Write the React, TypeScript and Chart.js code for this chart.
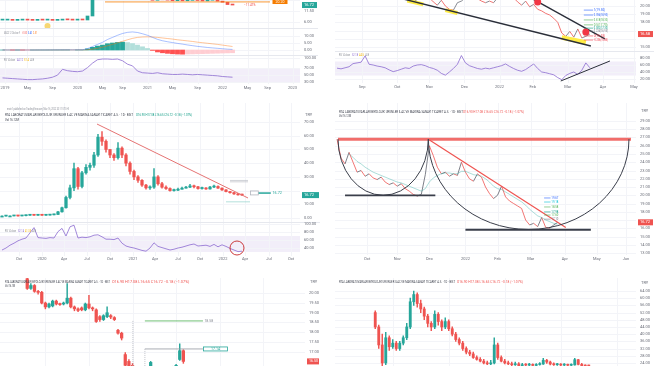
import React, { useEffect, useRef } from 'react';
import { Chart, registerables } from 'chart.js';

Chart.register(...registerables);

const FONT = 'Roboto, "DejaVu Sans", sans-serif';
const UP = '#26a69a';
const DOWN = '#ef5350';
const AXIS_TXT = '#6a6d78';
const GRID = '#f3f4f8';
const LEGEND = '#8a8d96';
const RSI_LINE = '#8c6bd0';
const RSI_BAND = 'rgba(126,87,194,0.10)';
const INK = '#3a3e4a';
const TITLE = 'RTA LABORATUVARLARI BIYOLOJIK URUNLER ILAC VE MAKINA SANAYI TICARET A.S. · 1D · BIST';
const OHLC = 'O16.90 H17.08 L16.65 C16.72 −0.18 (−1.07%)';

// ---------------- Top-left: price / MACD / RSI ----------------
const tlTickLabels = ['2019', 'May', 'Sep', '2020', 'May', 'Sep', '2021', 'May', 'Sep', '2022', 'May', 'Sep', '2023'];
const tlTickIndex = [0.5, 5, 10, 15, 20, 24, 29, 34, 39, 44, 49, 53, 58];
const tlFirstOpen = 6.7;
const tlCloses = [6.7, 6.8, 6.6, 6.7, 6.9, 6.7, 6.6, 6.8, 6.7, 6.8, 6.6, 6.7, 6.9, 6.8, 6.7, 6.8, 6.75,
  8.6, 30,
  35, 45, 55, 60, 50, 47, 52, 45, 38, 30, 27, 22.3, 25, 23, 22.5, 21.8, 22.8, 21.7, 22.2, 23,
  22, 21.5, 22.4, 23.2, 21.2, 19.8, 17.2, 16.72];
const tlMacd = [0.05, 0.04, 0.03, 0.03, 0.02, 0.02, 0.02, 0.03, 0.04, 0.05, 0.06, 0.08, 0.1, 0.12, 0.12, 0.13, 0.15,
  1.0, 2.5, 4.0, 5.5, 7.5, 9.0, 10.5, 11.8, 12.6, 12.9, 12.5, 11.6, 10.5, 9.0, 7.6,
  6.6, 5.9, 5.3, 4.7, 4.2, 3.6, 3.1, 2.6, 2.2, 1.8, 1.5, 1.2, 0.9, 0.6, 0.4];
const tlSignal = [0.04, 0.04, 0.04, 0.03, 0.03, 0.03, 0.02, 0.02, 0.03, 0.03, 0.04, 0.05, 0.06, 0.08, 0.09, 0.1, 0.11,
  0.2, 0.6, 1.2, 2.0, 3.0, 4.0, 5.1, 6.2, 7.3, 8.3, 9.0, 9.3, 9.4, 9.3, 9.0,
  8.6, 8.2, 7.8, 7.3, 6.9, 6.5, 6.1, 5.6, 5.2, 4.8, 4.4, 4.0, 3.5, 3.0, 2.5];
const tlHist = [0.01, 0, -0.01, 0, -0.01, -0.01, 0, 0.01, 0.01, 0.02, 0.02, 0.03, 0.04, 0.04, 0.03, 0.03, 0.04,
  0.8, 1.9, 2.8, 3.5, 4.5, 5.0, 5.4, 5.6, 5.3, 4.6, 3.5, 2.3, 1.1,
  -0.3, -1.4, -2.0, -2.4, -2.7, -2.9, -3.0, -2.9, -2.8, -2.7, -2.6, -2.5, -2.4, -2.3, -2.2, -2.1, -2.0];
const tlRsi = [42, 41, 40, 39, 38, 37, 37, 38, 39, 41, 44, 50, 67, 63, 61, 60, 62,
  72, 85, 95, 97, 97, 96, 97, 92, 82, 77, 62, 57, 56, 55, 57, 54,
  53, 52, 52, 53, 52, 51, 52, 51, 50, 49, 48, 46, 45, 44];

// ---------------- Top-right: falling wedge ----------------
const trTickLabels = ['Sep', 'Oct', 'Nov', 'Dec', '2022', 'Feb', 'Mar', 'Apr', 'May'];
const trTickIndex = [6.25, 15, 23, 31.75, 40.5, 48.75, 57.5, 66.25, 74];
const trCloses = [21.5, 22, 22.5, 21.8, 22.3, 23, 22.1, 21.6, 22.4, 21.9,
  22.8, 23.2, 22.5, 21.7, 22, 21.4, 21.2, 21.0, 20.6, 20.5,
  20.8, 21.2, 21.5, 21.0, 20.5, 20.1, 20.7, 20.0, 19.6, 19.5,
  20.4, 20.6, 21.0, 21.4, 21.2, 20.9, 20.6, 20.4, 20.6, 20.4,
  21, 21.5, 22, 21.3, 21, 20.5, 20.1, 20.6, 19.9, 20.2,
  19.6, 19.4, 19.1, 18.9, 18.5, 18.0, 16.7, 16.3, 16.9, 16.2,
  17.2, 16.1, 16.3, 16.58];
const trRsi = [51, 49, 52, 55, 64, 66, 68, 86, 62, 60, 57, 55, 52, 46, 41, 44, 48, 52, 50, 57,
  60, 61, 58, 53, 50, 45, 36, 31, 40, 50, 62, 87, 66, 58, 54, 50, 48, 51, 49, 52,
  55, 58, 63, 56, 50, 45, 42, 47, 55, 63, 50, 40, 38, 35, 32, 24, 18, 30, 36, 40,
  33, 45, 66, 52];
const trFibLevels = [19.5, 18.9, 18.3, 17.7, 17.3, 16.95, 16.35, 15.85];
const trFibNames = ['1', '0.786', '0.618', '0.5', '0.382', '0.236', '0', '-0.236'];
const trFibColors = ['#2962ff', '#2962ff', '#4caf50', '#4caf50', '#089981', '#787b86', '#f23645', '#f23645'];

// ---------------- Middle-left: full history with trend line ----------------
const mlTickLabels = ['Oct', '2020', 'Apr', 'Jul', 'Oct', '2021', 'Apr', 'Jul', 'Oct', '2022', 'Apr', 'Jul', 'Oct'];
const mlTickIndex = [4.25, 10, 15.5, 21.25, 27, 32.75, 38.25, 44, 49.5, 55.25, 60.75, 66.75, 72.25];
const mlFirstOpen = 1.4;
const mlCloses = [1.4, 1.5, 1.5, 1.6, 1.5, 1.7, 2.0, 2.2, 2.0, 2.1,
  2.0, 2.1, 2.3, 2.6, 4.5, 7.5, 15, 22, 36, 23,
  33, 37, 38.5, 46, 59, 56, 50, 46, 44, 51,
  46, 40, 34, 30, 27.5, 24, 22, 22.5, 30, 25,
  22.5, 21.5, 20, 20.3, 21, 21.8, 22.5, 23.4, 22.8, 21.5,
  21.8, 21.2, 22.6, 23, 21.8, 20.5, 19.3, 18.5, 17.6, 16.9,
  16.72];
const mlHighs = [1.5, 1.6, 1.6, 1.7, 1.7, 1.8, 2.2, 2.3, 2.2, 2.2,
  2.2, 2.2, 2.4, 2.8, 4.8, 8.0, 16, 24, 40, 37,
  34, 39, 40, 48, 61, 63, 57, 50, 47, 55,
  52, 47, 41, 35, 31, 28, 24.5, 23.5, 36, 31,
  26, 23.5, 22, 21.2, 21.8, 22.5, 23.2, 24.5, 24, 23.2,
  22.5, 22.2, 23.2, 24, 23.5, 22, 20.8, 19.5, 18.8, 18,
  17.4];
const mlLows = [1.3, 1.4, 1.4, 1.5, 1.4, 1.5, 1.6, 1.9, 1.9, 1.9,
  1.9, 1.9, 2.0, 2.2, 2.5, 4.3, 7.2, 14, 20, 21,
  22, 32, 35, 37, 45, 53, 48, 44, 42, 43,
  44, 38, 32, 28, 26, 23, 21, 20.8, 21.5, 24,
  21.8, 20.8, 19.5, 19.6, 20, 21, 21.7, 22.2, 22, 21,
  21, 20.8, 21, 22.2, 21.5, 20.2, 19, 18.2, 17.3, 16.6,
  16.5];
const mlRsi = [35, 40, 47, 52, 58, 62, 65, 78, 91, 66,
  65, 64, 66, 65, 81, 89, 70, 93, 97, 65,
  67, 66, 68, 72, 73, 68, 62, 62, 61, 65,
  52, 45, 42, 40, 37, 34, 32, 40, 53, 44,
  41, 38, 35, 37, 40, 42, 45, 48, 50, 45,
  46, 47, 44, 49, 43, 48, 44, 39, 35, 31,
  32];

// ---------------- Middle-right: cup arcs ----------------
const mrTickLabels = ['Oct', 'Nov', 'Dec', '2022', 'Feb', 'Mar', 'Apr', 'May', 'Jun'];
const mrTickIndex = [7.5, 15, 23, 32, 40, 48.25, 56.75, 64.75, 72];
const mrCloses = [26.8, 24.5, 23.8, 25.2, 24.0, 22.8, 23.0, 22.3, 22.6, 22.1,
  21.9, 22.2, 21.6, 21.3, 21.5, 21.1, 21.4, 20.8, 20.5, 20.1,
  19.9, 20.1, 22.5, 26.0, 24.8, 23.4, 22.6, 22.8, 22.3, 22.6,
  22.4, 24.0, 22.8, 22.0, 21.7, 22.6, 22.2, 21.0, 20.2, 19.6,
  20.0, 21.1, 19.8, 19.3, 19.0, 18.7, 18.4, 17.0, 16.4, 16.6,
  16.2, 17.3, 16.1, 16.0, 16.4, 16.72];
const mrMa = [null, null, null, 25.0, 24.6, 24.1, 23.8, 23.4, 23.1, 22.8,
  22.6, 22.4, 22.2, 22.0, 21.8, 21.6, 21.5, 21.3, 21.1, 20.9,
  20.7, 20.5, 20.8, 21.6, 22.1, 22.4, 22.6, 22.7, 22.7, 22.6,
  22.6, 22.9, 22.9, 22.7, 22.5, 22.4, 22.3, 22.0, 21.6, 21.1,
  20.8, 20.7, 20.4, 20.1, 19.8, 19.5, 19.2, 18.8, 18.3, 17.9,
  17.5, 17.3, 17.0, 16.8, 16.6, 16.5];
const mrFibLevels = [19.67, 19.18, 18.58, 17.98, 17.6, 17.1];
const mrFibColors = ['#2962ff', '#00bcd4', '#4caf50', '#089981', '#4caf50', '#787b86'];

// ---------------- Bottom-left: daily zoom ----------------
const blStart = 7;
const blOpens = [20.75, 20.25, 20.4, 20.1, 20.05, 19.5, 19.3, 19.35, 19.6, 19.45,
  19.45, 19.5, 19.75, 19.3, 19.2, 19.25, 19.15, 19.45, 19.25, 19.15,
  18.8, 18.65, 18.8, 18.85, 18.75, 18.1, 17.95, 16.85, 16.5, 16.3,
  16.1, 15.9, 15.8, 15.9, 16.2, 16.1, 15.9, 15.8, 15.9, 16.0,
  16.1, 16.2, 16.6, 17.05];
const blCloses = [20.25, 20.4, 20.1, 20.05, 19.5, 19.3, 19.45, 19.6, 19.45, 19.42,
  19.5, 19.75, 19.3, 19.2, 19.12, 19.15, 19.45, 19.25, 19.2, 18.55,
  18.65, 18.85, 19.0, 18.78, 18.65, 17.95, 17.7, 16.3, 16.2, 16.1,
  15.9, 15.8, 15.9, 16.0, 16.45, 15.9, 15.8, 15.9, 16.0, 16.1,
  16.2, 16.3, 17.05, 16.5];
const blHighs = [20.9, 20.5, 20.45, 20.15, 20.1, 19.55, 19.5, 19.65, 19.65, 19.5,
  19.55, 20.5, 19.8, 19.35, 19.25, 19.3, 19.5, 19.9, 19.3, 19.2,
  18.85, 18.9, 19.3, 18.9, 18.8, 18.15, 18.0, 16.95, 16.6, 16.4,
  16.15, 16.0, 16.0, 16.1, 16.5, 16.2, 16.0, 16.0, 16.1, 16.15,
  16.25, 16.35, 17.4, 17.1];
const blLows = [20.2, 20.2, 20.05, 19.95, 19.45, 19.2, 19.25, 19.3, 19.4, 19.38,
  19.4, 19.45, 19.25, 19.1, 19.05, 19.1, 19.1, 19.2, 19.1, 18.5,
  18.55, 18.6, 18.75, 18.7, 18.6, 17.9, 17.6, 16.2, 16.1, 16.0,
  15.8, 15.7, 15.75, 15.85, 16.15, 15.85, 15.7, 15.75, 15.85, 15.95,
  16.05, 16.15, 16.55, 16.4];

// ---------------- Bottom-right: history candles ----------------
const brStart = 11;
const brFirstOpen = 52;
const brCloses = [44, 34, 24, 38, 33, 35, 32, 35, 38, 44,
  58, 62, 57, 54, 50, 46, 44, 51, 47, 44,
  47, 43, 40, 37, 35, 32, 30, 29, 27, 26,
  25, 24, 23.5, 24, 34, 27, 25, 24, 23.5, 23,
  23.5, 22.5, 23, 22.8, 23.2, 22.6, 23.1, 23.4, 25.5, 24.5,
  23.4, 23, 23.2, 22.8, 23.1, 22.7, 22.9, 25.8, 23.2, 22.5,
  22.2, 21.8];
const brHighs = [53, 45, 40, 41, 39, 37, 36, 36, 39, 46,
  60, 64, 63, 59, 55, 51, 47, 53, 52, 48,
  49, 48, 44, 41, 38, 36, 33, 31, 30, 28,
  27, 26, 25, 25.5, 38, 35, 28, 26, 25, 24.5,
  24.5, 24.2, 23.8, 23.6, 23.8, 23.5, 23.6, 24.2, 26.5, 26,
  25, 24, 23.8, 23.6, 23.6, 23.4, 23.5, 26.5, 26, 23.8,
  23, 22.8];
const brLows = [43, 32, 22, 23, 31, 32, 31, 31, 34, 37,
  43, 56, 55, 52, 48, 44, 42, 43, 45, 42,
  43, 42, 39, 36, 34, 31, 29, 28, 26.5, 25.5,
  24.5, 23.5, 23, 23, 23.5, 26, 24.5, 23.5, 23, 22.5,
  22.6, 22.2, 22.2, 22.4, 22.5, 22.3, 22.4, 22.8, 23.2, 23.8,
  22.9, 22.6, 22.6, 22.4, 22.5, 22.4, 22.5, 22.7, 22.9, 22.2,
  21.8, 21.5];

// ---------------- helpers ----------------
function opensFrom(first: number, closes: number[]) {
  return closes.map((c, i) => (i === 0 ? first : closes[i - 1]));
}
function pad(start: number, arr: any[]) {
  return [...Array(start).fill(null), ...arr];
}
function range(a: number, b: number, step: number) {
  const out: number[] = [];
  for (let v = a; v <= b + 1e-9; v += step) out.push(Math.round(v * 100) / 100);
  return out;
}
function candles(opens: any[], closes: any[], highs: any[] | null, lows: any[] | null, bodyW: number, wickW: number) {
  const cols = closes.map((c, i) => (c == null ? 'rgba(0,0,0,0)' : c >= opens[i] ? UP : DOWN));
  const ds: any[] = [{
    type: 'bar', data: closes.map((c, i) => (c == null ? null : [opens[i], c])),
    backgroundColor: cols, barThickness: bodyW, grouped: false, order: 1, minBarLength: 1,
  }];
  if (highs && lows) {
    ds.push({
      type: 'bar', data: highs.map((h, i) => (h == null ? null : [lows[i], h])),
      backgroundColor: cols, barThickness: wickW, grouped: false, order: 2,
    });
  }
  return ds;
}
function line(data: any[], color: string, width: number, extra: any = {}) {
  return { type: 'line', data, borderColor: color, borderWidth: width, pointRadius: 0, fill: false, tension: 0, spanGaps: true, order: 0, ...extra };
}
const upDownSegment = (upC: string, downC: string) => ({
  borderColor: (c: any) => (c.p1.parsed.y < c.p0.parsed.y ? downC : upC),
});

function txt(ctx: any, text: string, x: number, y: number, color: string, size = 4, align = 'left', maxW?: number) {
  ctx.font = `${size}px ${FONT}`;
  ctx.fillStyle = color;
  ctx.textAlign = align;
  ctx.textBaseline = 'middle';
  if (maxW) ctx.fillText(text, x, y, maxW);
  else ctx.fillText(text, x, y);
}

function makePlugin(a: any) {
  return {
    id: 'tvDecor',
    beforeDatasetsDraw(chart: any) {
      const { ctx, chartArea: ca, scales } = chart;
      const xs = scales.x, ys = scales.y;
      ctx.save();
      for (const b of a.bands || []) {
        const y1 = ys.getPixelForValue(b.from), y2 = ys.getPixelForValue(b.to);
        ctx.fillStyle = b.color;
        ctx.fillRect(ca.left, Math.min(y1, y2), ca.right - ca.left, Math.abs(y2 - y1));
      }
      ctx.strokeStyle = GRID;
      ctx.lineWidth = 1;
      ctx.beginPath();
      for (const v of a.yTicks || []) {
        const y = Math.round(ys.getPixelForValue(v)) + 0.5;
        if (y < ca.top || y > ca.bottom) continue;
        ctx.moveTo(ca.left, y); ctx.lineTo(ca.right, y);
      }
      for (const i of a.xTicks || []) {
        const x = Math.round(xs.getPixelForValue(i)) + 0.5;
        ctx.moveTo(x, ca.top); ctx.lineTo(x, ca.bottom);
      }
      ctx.stroke();
      if (a.sepTop) {
        ctx.strokeStyle = '#e6e8ee';
        ctx.beginPath(); ctx.moveTo(0, 0.5); ctx.lineTo(chart.width, 0.5); ctx.stroke();
      }
      ctx.restore();
    },
    afterDatasetsDraw(chart: any) {
      const { ctx, chartArea: ca, scales } = chart;
      const xs = scales.x, ys = scales.y;
      const X = (v: number) => xs.getPixelForValue(v);
      const Y = (v: number) => ys.getPixelForValue(v);
      ctx.save();
      ctx.beginPath(); ctx.rect(ca.left, ca.top, ca.right - ca.left, ca.bottom - ca.top); ctx.clip();
      for (const s of a.segs || []) {
        ctx.strokeStyle = s.color; ctx.lineWidth = s.width; ctx.lineCap = 'butt';
        ctx.setLineDash(s.dash || []);
        ctx.beginPath(); ctx.moveTo(X(s.x1), Y(s.y1)); ctx.lineTo(X(s.x2), Y(s.y2)); ctx.stroke();
      }
      ctx.setLineDash([]);
      for (const r of a.arcs || []) {
        const x1 = X(r.x1), x2 = X(r.x2), yt = Y(r.top), yb = Y(r.bottom);
        ctx.strokeStyle = r.color; ctx.lineWidth = r.width;
        ctx.beginPath(); ctx.ellipse((x1 + x2) / 2, yt, Math.abs(x2 - x1) / 2, Math.abs(yb - yt), 0, 0, Math.PI); ctx.stroke();
      }
      for (const c of a.circles || []) {
        ctx.beginPath(); ctx.arc(X(c.x), Y(c.y), c.r, 0, Math.PI * 2);
        if (c.fill) { ctx.fillStyle = c.fill; ctx.fill(); }
        if (c.stroke) { ctx.strokeStyle = c.stroke; ctx.lineWidth = c.width || 1; ctx.stroke(); }
      }
      for (const b of a.boxes || []) {
        const x1 = X(b.x1), x2 = X(b.x2), y = Y(b.v);
        if (b.fill) { ctx.fillStyle = b.fill; ctx.fillRect(x1, y - b.h / 2, x2 - x1, b.h); }
        if (b.stroke) { ctx.strokeStyle = b.stroke; ctx.lineWidth = 0.8; ctx.strokeRect(x1 + 0.5, y - b.h / 2 + 0.5, x2 - x1 - 1, b.h - 1); }
        if (b.text) txt(ctx, b.text, (x1 + x2) / 2, y, b.fg, 3.5, 'center', x2 - x1 - 1);
      }
      for (const t of a.dtexts || []) txt(ctx, t.text, X(t.x), Y(t.y), t.color, t.size || 3.5, t.align || 'left', t.maxW);
      ctx.restore();

      ctx.save();
      const tagYs = (a.tags || []).map((t: any) => Y(t.v));
      for (const v of a.yTicks || []) {
        const y = Y(v);
        if (y < 2 || y > chart.height - 2) continue;
        if (tagYs.some((ty: number) => Math.abs(ty - y) < 5)) continue;
        txt(ctx, v.toFixed(a.yDec), ca.right + 4, y, AXIS_TXT, 4, 'left', chart.width - ca.right - 5);
      }
      if (a.header) txt(ctx, a.header, ca.right + 5, a.headerY, AXIS_TXT, 4);
      for (const t of a.tags || []) {
        const y = Y(t.v);
        ctx.fillStyle = t.bg;
        ctx.fillRect(ca.right + 2, y - 3, chart.width - ca.right - 3, 6);
        txt(ctx, t.text, ca.right + 4, y, '#ffffff', 4, 'left', chart.width - ca.right - 6);
      }
      if (a.xLabels) {
        a.xLabels.forEach((l: string, i: number) => {
          const x = X(a.xTicks[i]);
          if (x < 4 || x > chart.width - 4) return;
          txt(ctx, l, x, ca.bottom + a.xLabOff, AXIS_TXT, 4, 'center');
        });
      }
      for (const t of a.texts || []) txt(ctx, t.text, t.px, t.py, t.color, t.size || 4, 'left', t.maxW);
      ctx.restore();
    },
  };
}

function Pane({ p }: { p: any }) {
  const ref = useRef<HTMLCanvasElement>(null);
  useEffect(() => {
    const chart = new Chart(ref.current as HTMLCanvasElement, {
      type: 'bar',
      data: { labels: Array.from({ length: p.count }, (_, i) => String(i)), datasets: p.datasets },
      options: {
        responsive: false,
        animation: false,
        devicePixelRatio: 1,
        events: [],
        layout: { padding: { left: 0, top: 0, right: p.axisW, bottom: p.bottomH } },
        plugins: { legend: { display: false }, tooltip: { enabled: false } },
        scales: {
          x: { type: 'category', display: false, offset: true },
          y: { type: p.log ? 'logarithmic' : 'linear', display: false, min: p.min, max: p.max },
        },
      } as any,
      plugins: [makePlugin(p.ann)],
    } as any);
    return () => chart.destroy();
  }, []);
  return (
    <canvas
      ref={ref}
      width={p.width}
      height={p.height}
      style={{ position: 'absolute', left: p.left, top: p.top, width: p.width, height: p.height, display: 'block' }}
    />
  );
}

// ---------------- derived tables ----------------
const tlOpens = opensFrom(tlFirstOpen, tlCloses);
const tlHistColors = tlHist.map((h, i) => {
  const prev = i > 0 ? tlHist[i - 1] : 0;
  return h >= 0 ? (h >= prev ? '#26a69a' : '#b2dfdb') : (h < prev ? '#ff5252' : '#ffcdd2');
});
const mlOpens = opensFrom(mlFirstOpen, mlCloses);
const brOpens = opensFrom(brFirstOpen, brCloses);
const rsiBand = [{ from: 30, to: 70, color: RSI_BAND }];

const PANES: any[] = [
  // TL price
  {
    left: 0, top: 0, width: 318, height: 28, axisW: 18, bottomH: 0, count: 60, log: true, min: 4.15, max: 22.7,
    datasets: candles(tlOpens, tlCloses, null, null, 3, 1),
    ann: {
      yTicks: [6, 11.5, 22.5], yDec: 2, xTicks: tlTickIndex,
      tags: [{ v: 16.72, text: '16.72', bg: UP }],
      segs: [{ x1: 20.5, y1: 20.2, x2: 53.5, y2: 20.2, color: '#f57c00', width: 0.8 }],
      boxes: [{ x1: 54, x2: 57, v: 20.1, h: 4, fill: '#f57c00', text: '20.20', fg: '#ffffff' }],
      circles: [{ x: 9, y: 4.7, r: 3, fill: '#f7d774' }],
      dtexts: [{ x: 48.3, y: 16.9, text: '−11.47%', color: DOWN, size: 3 }],
    },
  },
  // TL MACD
  {
    left: 0, top: 28, width: 318, height: 27, axisW: 18, bottomH: 0, count: 60, min: -3.57, max: 15.71,
    datasets: [
      line(tlMacd, 'rgba(41,98,255,0.5)', 0.8),
      line(tlSignal, 'rgba(255,109,0,0.5)', 0.8),
      { type: 'bar', data: tlHist, backgroundColor: tlHistColors, barThickness: 4.2, grouped: false, order: 1 },
    ],
    ann: {
      yTicks: [0, 5, 10], yDec: 2, xTicks: tlTickIndex, sepTop: true,
      texts: [
        { px: 4, py: 5, text: 'MACD 12 26 close 9', color: LEGEND, size: 3.8, maxW: 16 },
        { px: 22, py: 5, text: '-2.00', color: '#ef5350', size: 3.8, maxW: 5 },
        { px: 28, py: 5, text: '0.40', color: '#2962ff', size: 3.8, maxW: 4 },
        { px: 33, py: 5, text: '2.51', color: '#ff6d00', size: 3.8, maxW: 4 },
      ],
    },
  },
  // TL RSI
  {
    left: 0, top: 55, width: 318, height: 37, axisW: 18, bottomH: 8, count: 60, min: 24.2, max: 108.75,
    datasets: [line(tlRsi, RSI_LINE, 0.8)],
    ann: {
      yTicks: [30, 50, 70, 100], yDec: 2, xTicks: tlTickIndex, xLabels: tlTickLabels, xLabOff: 3.5,
      bands: rsiBand, sepTop: true,
      texts: [
        { px: 4, py: 5, text: 'RSI 14 close', color: LEGEND, size: 3.8, maxW: 11 },
        { px: 17, py: 5, text: '44.12', color: RSI_LINE, size: 3.8, maxW: 6 },
        { px: 24, py: 5, text: '51.4', color: '#f5b400', size: 3.8, maxW: 5 },
        { px: 30, py: 5, text: '4.8', color: LEGEND, size: 3.8, maxW: 4 },
      ],
    },
  },
  // TR price
  {
    left: 335, top: 0, width: 319, height: 51, axisW: 18, bottomH: 0, count: 75, min: 14.512, max: 20.732,
    datasets: [line(trCloses, '#6b6e78', 0.8, { segment: upDownSegment('#6b6e78', DOWN) })],
    ann: {
      yTicks: [15, 16, 17, 18, 19, 20], yDec: 2, xTicks: trTickIndex,
      tags: [{ v: 16.58, text: '16.58', bg: DOWN }],
      segs: [
        { x1: 17.5, y1: 20.65, x2: 21.5, y2: 20.2, color: 'rgba(255,235,59,0.95)', width: 4 },
        { x1: 27, y1: 19.5, x2: 30, y2: 19.15, color: 'rgba(255,235,59,0.95)', width: 4 },
        { x1: 56, y1: 16.15, x2: 62, y2: 15.55, color: 'rgba(255,235,59,0.95)', width: 4.5 },
        { x1: 0, y1: 22.88, x2: 63.25, y2: 15.12, color: '#2a2e39', width: 1.4 },
        { x1: 40, y1: 23.24, x2: 66.75, y2: 15.98, color: '#2a2e39', width: 1.4 },
        ...trFibLevels.map((v, i) => ({ x1: 61.5, y1: v, x2: 63.8, y2: v, color: trFibColors[i], width: 0.6 })),
      ],
      circles: [
        { x: 50, y: 20.49, r: 3.5, fill: '#f23645' },
        { x: 62, y: 16.83, r: 3.5, fill: '#f23645' },
      ],
      dtexts: trFibLevels.map((v, i) => ({ x: 64, y: v, text: `${trFibNames[i]}(${v.toFixed(2)})`, color: trFibColors[i], size: 3, maxW: 14 })),
    },
  },
  // TR RSI
  {
    left: 335, top: 51, width: 319, height: 41, axisW: 18, bottomH: 9, count: 75, min: 8.57, max: 100,
    datasets: [line(trRsi, RSI_LINE, 0.8)],
    ann: {
      yTicks: [20, 40, 60, 80], yDec: 2, xTicks: trTickIndex, xLabels: trTickLabels, xLabOff: 4,
      bands: rsiBand, sepTop: true,
      segs: [{ x1: 55.75, y1: 14.3, x2: 68, y2: 71.4, color: '#2a2e39', width: 1 }],
      texts: [
        { px: 4, py: 4, text: 'RSI 14 close', color: LEGEND, size: 3.8, maxW: 11 },
        { px: 17, py: 4, text: '52.18', color: RSI_LINE, size: 3.8, maxW: 6 },
        { px: 24, py: 4, text: '44.5', color: '#f5b400', size: 3.8, maxW: 5 },
        { px: 30, py: 4, text: '4.8', color: LEGEND, size: 3.8, maxW: 4 },
      ],
    },
  },
  // ML price
  {
    left: 0, top: 103, width: 320, height: 119, axisW: 20, bottomH: 0, count: 75, min: -2.92, max: 83.94,
    datasets: candles(mlOpens, mlCloses, mlHighs, mlLows, 2.6, 0.8),
    ann: {
      yTicks: [0, 10, 20, 30, 40, 50, 60, 70], yDec: 2, xTicks: mlTickIndex, header: 'TRY', headerY: 12,
      tags: [{ v: 16.72, text: '16.72', bg: UP }],
      segs: [
        { x1: 23.75, y1: 68.6, x2: 61.5, y2: 14.6, color: '#e57373', width: 1 },
        { x1: 64, y1: 18.2, x2: 67.2, y2: 18.2, color: UP, width: 1.5 },
        { x1: 57, y1: 27.4, x2: 61.5, y2: 27.4, color: '#b2b5be', width: 0.6 },
        { x1: 57, y1: 26.4, x2: 61.5, y2: 26.4, color: '#b2b5be', width: 0.6 },
        { x1: 56, y1: 11.8, x2: 62, y2: 11.8, color: '#80cbc4', width: 0.6 },
      ],
      boxes: [{ x1: 62, x2: 64.2, v: 18.3, h: 5, stroke: '#b2b5be', text: '', fg: LEGEND }],
      dtexts: [{ x: 67.6, y: 18.2, text: '16.72', color: UP, size: 3.8 }],
      texts: [
        { px: 7, py: 6, text: 'ersin1 published on TradingView.com, Mar 16, 2022 20:11 UTC+3', color: LEGEND, size: 3.8, maxW: 62 },
        { px: 5, py: 12, text: TITLE, color: INK, size: 3.8, maxW: 128 },
        { px: 136, py: 12, text: OHLC, color: '#089981', size: 3.8, maxW: 56 },
        { px: 5, py: 17, text: 'Vol 16.12M', color: INK, size: 3.8, maxW: 14 },
      ],
    },
  },
  // ML RSI
  {
    left: 0, top: 222, width: 320, height: 46, axisW: 20, bottomH: 12, count: 75, min: 20, max: 105,
    datasets: [line(mlRsi, RSI_LINE, 0.8)],
    ann: {
      yTicks: [40, 60, 80, 100], yDec: 2, xTicks: mlTickIndex, xLabels: mlTickLabels, xLabOff: 3,
      bands: rsiBand, sepTop: true,
      circles: [{ x: 58.75, y: 40, r: 7, stroke: '#c62828', width: 0.9 }],
      texts: [
        { px: 5, py: 9, text: 'RSI 14 close', color: LEGEND, size: 3.8, maxW: 11 },
        { px: 18, py: 9, text: '32.14', color: RSI_LINE, size: 3.8, maxW: 6 },
        { px: 25, py: 9, text: '41.35', color: '#f5b400', size: 3.8, maxW: 6 },
        { px: 32, py: 9, text: '4.8', color: LEGEND, size: 3.8, maxW: 4 },
      ],
    },
  },
  // MR price (cups)
  {
    left: 335, top: 103, width: 319, height: 161, axisW: 18, bottomH: 9, count: 75, min: 12.76, max: 31.18,
    datasets: [
      line(mrMa, 'rgba(38,166,154,0.55)', 0.7),
      line(mrCloses, '#5d606b', 0.8, { segment: upDownSegment('#5d606b', DOWN) }),
    ],
    ann: {
      yTicks: range(13, 29, 1), yDec: 2, xTicks: mrTickIndex, xLabels: mrTickLabels, xLabOff: 3.5,
      header: 'TRY', headerY: 8,
      tags: [{ v: 16.72, text: '16.72', bg: DOWN }],
      arcs: [
        { x1: 0.25, x2: 22.75, top: 26.8, bottom: 20.0, color: INK, width: 1 },
        { x1: 22.75, x2: 72.75, top: 26.8, bottom: 15.85, color: INK, width: 1 },
      ],
      segs: [
        { x1: 0.25, y1: 26.8, x2: 73.25, y2: 26.8, color: 'rgba(239,83,80,0.85)', width: 3 },
        { x1: 2, y1: 19.98, x2: 24.5, y2: 19.98, color: INK, width: 1.8 },
        { x1: 32, y1: 15.82, x2: 63.25, y2: 15.82, color: INK, width: 1.8 },
        { x1: 22.75, y1: 26.8, x2: 57, y2: 16.1, color: DOWN, width: 1.2 },
        ...mrFibLevels.map((v, i) => ({ x1: 51.6, y1: v, x2: 53.2, y2: v, color: mrFibColors[i], width: 0.6 })),
      ],
      dtexts: mrFibLevels.map((v, i) => ({ x: 53.4, y: v, text: `${v.toFixed(2)}`, color: mrFibColors[i], size: 3, maxW: 7 })),
      texts: [
        { px: 4, py: 9, text: TITLE, color: INK, size: 3.8, maxW: 124 },
        { px: 128, py: 9, text: OHLC, color: DOWN, size: 3.8, maxW: 61 },
        { px: 4, py: 13, text: 'Vol 16.12M', color: INK, size: 3.8, maxW: 12 },
      ],
    },
  },
  // BL daily zoom
  {
    left: 0, top: 278, width: 320, height: 88, axisW: 15, bottomH: 0, count: 84, min: 16.264, max: 20.786,
    datasets: candles(pad(blStart, blOpens), pad(blStart, blCloses), pad(blStart, blHighs), pad(blStart, blLows), 2.6, 0.8),
    ann: {
      yTicks: range(17, 20, 0.5), yDec: 2, header: 'TRY', headerY: 4,
      xTicks: [12, 24, 36, 48, 60, 72],
      tags: [{ v: 16.5, text: '16.50', bg: DOWN }],
      segs: [
        { x1: 39.4, y1: 18.58, x2: 55.4, y2: 18.58, color: '#4caf50', width: 0.8 },
        { x1: 39.4, y1: 17.14, x2: 55.4, y2: 17.14, color: '#9598a1', width: 0.8 },
        { x1: 36.1, y1: 18.58, x2: 36.1, y2: 16.2, color: '#b2b5be', width: 0.8, dash: [1, 1] },
        { x1: 39.4, y1: 17.14, x2: 39.4, y2: 16.2, color: '#b2b5be', width: 0.8, dash: [1, 1] },
      ],
      boxes: [
        { x1: 55.4, x2: 58.6, v: 18.58, h: 5, text: '18.58', fg: LEGEND },
        { x1: 55.4, x2: 62.3, v: 17.14, h: 5, stroke: UP, text: '17.14', fg: UP },
      ],
      texts: [
        { px: 5, py: 4, text: TITLE, color: INK, size: 3.8, maxW: 105 },
        { px: 112, py: 4, text: OHLC, color: DOWN, size: 3.8, maxW: 78 },
        { px: 5, py: 8, text: 'Vol 16.1M', color: INK, size: 3.8, maxW: 10 },
      ],
    },
  },
  // BR history
  {
    left: 335, top: 278, width: 319, height: 88, axisW: 18, bottomH: 0, count: 86, min: 22.3, max: 71.2,
    datasets: candles(pad(brStart, brOpens), pad(brStart, brCloses), pad(brStart, brHighs), pad(brStart, brLows), 2.2, 0.8),
    ann: {
      yTicks: range(24, 64, 4), yDec: 2, header: 'TRY', headerY: 5,
      xTicks: [16, 32, 48, 64, 80],
      texts: [
        { px: 4, py: 4, text: TITLE, color: INK, size: 3.8, maxW: 116 },
        { px: 122, py: 4, text: OHLC, color: DOWN, size: 3.8, maxW: 66 },
      ],
    },
  },
];

export default function App() {
  useEffect(() => {
    document.body.style.margin = '0';
  }, []);
  return (
    <div style={{ position: 'fixed', left: 0, top: 0, width: 654, height: 366, overflow: 'hidden', background: '#ffffff' }}>
      {PANES.map((p, i) => (
        <Pane key={i} p={p} />
      ))}
    </div>
  );
}
